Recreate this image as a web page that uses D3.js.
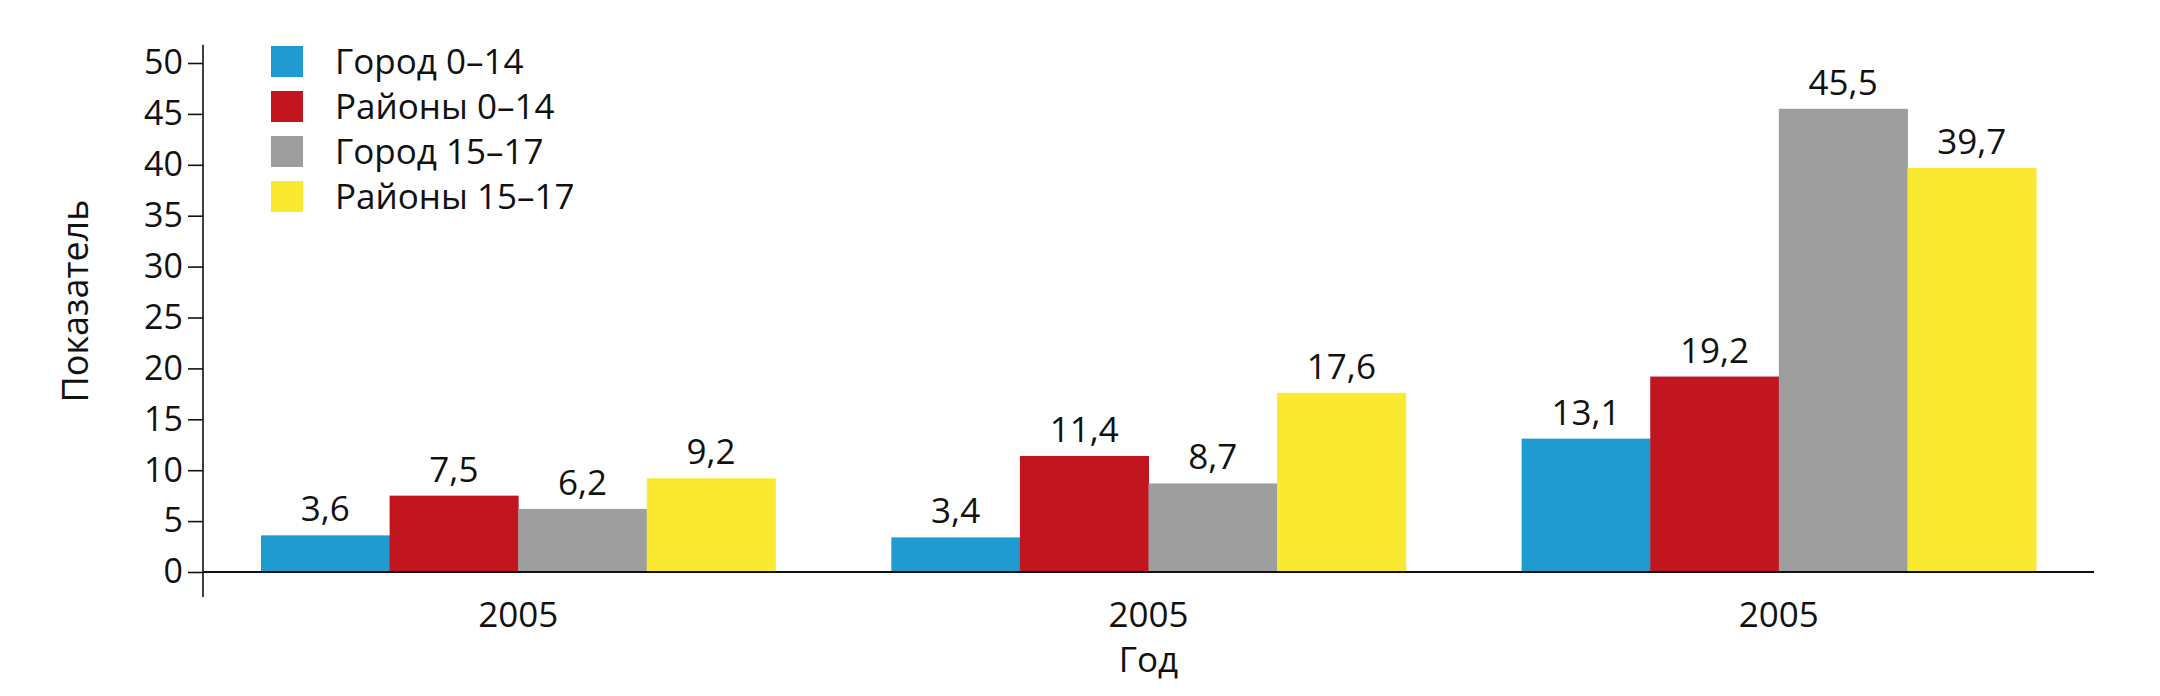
<!DOCTYPE html>
<html>
<head>
<meta charset="utf-8">
<script src="https://cdn.jsdelivr.net/npm/d3@7/dist/d3.min.js"></script>
<style>
  html, body { margin: 0; padding: 0; background: #fff; }
  svg { display: block; }
  text { font-family: "Open Sans", "Noto Sans", sans-serif; fill: #111; }
</style>
</head>
<body>
<script>
const categories = ["2005", "2005 ", "2005  "];
const categoryLabels = ["2005", "2005", "2005"];
const seriesNames = ["Город 0–14", "Районы 0–14", "Город 15–17", "Районы 15–17"];
const seriesColors = ["#1f9bcf", "#c1151f", "#9d9e9d", "#f9e930"];
const gorod014 = [3.6, 3.4, 13.1];
const raiony014 = [7.5, 11.4, 19.2];
const gorod1517 = [6.2, 8.7, 45.5];
const raiony1517 = [9.2, 17.6, 39.7];
const yTicks = [0, 5, 10, 15, 20, 25, 30, 35, 40, 45, 50];
const xTitle = "Год";
const yTitle = "Показатель";

const seriesValues = [gorod014, raiony014, gorod1517, raiony1517];

const W = 2160, H = 696;
const svg = d3.select("body").append("svg").attr("width", W).attr("height", H);

const x0 = d3.scaleBand().domain(categories).range([203, 2094])
  .paddingInner(0.184).paddingOuter(0.092);
const x1 = d3.scaleBand().domain(d3.range(seriesNames.length)).range([0, x0.bandwidth()]);
const y = d3.scaleLinear().domain([0, 50]).range([572, 63]);

// bars
categories.forEach((c, ci) => {
  const g = svg.append("g").attr("transform", `translate(${x0(c)},0)`);
  seriesValues.forEach((vals, si) => {
    g.append("rect")
      .attr("x", x1(si))
      .attr("y", y(vals[ci]))
      .attr("width", x1.bandwidth() + 0.5)
      .attr("height", y(0) - y(vals[ci]))
      .attr("fill", seriesColors[si]);
    g.append("text")
      .attr("x", x1(si) + x1.bandwidth() / 2)
      .attr("y", y(vals[ci]) - 14)
      .attr("text-anchor", "middle")
      .attr("font-size", 35)
      .text(String(vals[ci]).replace(".", ","));
  });
});

// y axis
const yAxis = d3.axisLeft(y).tickValues(yTicks).tickSize(15).tickPadding(5).tickFormat(d3.format("d"));
const ga = svg.append("g").attr("transform", "translate(203,0)").call(yAxis);
ga.select(".domain").remove();
ga.selectAll(".tick line").attr("stroke", "#111").attr("stroke-width", 1.6);
ga.selectAll(".tick text").attr("font-size", 34).attr("font-family", "Open Sans, sans-serif").attr("fill", "#111");
svg.append("line").attr("x1", 203).attr("x2", 203)
  .attr("y1", y(51.8)).attr("y2", y(-2.45))
  .attr("stroke", "#111").attr("stroke-width", 1.6);

// x axis
const xAxis = d3.axisBottom(x0).tickSize(0).tickPadding(0).tickFormat((d, i) => categoryLabels[i]);
const gx = svg.append("g").attr("transform", `translate(0,${y(0)})`).call(xAxis);
gx.select(".domain").remove();
gx.selectAll(".tick text").attr("font-size", 35).attr("font-family", "Open Sans, sans-serif")
  .attr("fill", "#111").attr("dy", null).attr("y", 55);
svg.append("line").attr("x1", 203).attr("x2", 2094)
  .attr("y1", y(0)).attr("y2", y(0))
  .attr("stroke", "#111").attr("stroke-width", 2);

// axis titles
svg.append("text").attr("x", (203 + 2094) / 2).attr("y", 672)
  .attr("text-anchor", "middle").attr("font-size", 35).text(xTitle);
svg.append("text").attr("transform", "translate(88,301) rotate(-90)")
  .attr("text-anchor", "middle").attr("font-size", 36).text(yTitle);

// legend
const lg = svg.append("g");
seriesNames.forEach((n, i) => {
  const cy = 61.5 + i * 45;
  lg.append("rect").attr("x", 271).attr("y", cy - 15.5).attr("width", 32).attr("height", 31)
    .attr("fill", seriesColors[i]);
  lg.append("text").attr("x", 335).attr("y", cy + 12).attr("font-size", 35).text(n);
});
</script>
</body>
</html>
